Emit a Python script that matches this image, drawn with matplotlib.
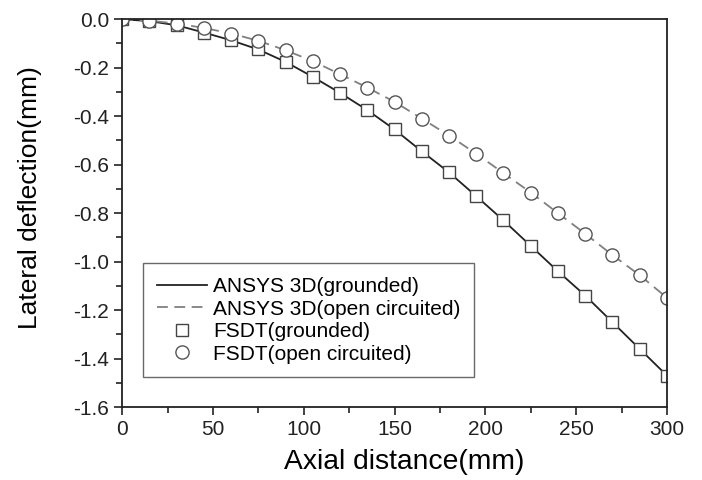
import matplotlib
matplotlib.use('Agg')
import matplotlib.pyplot as plt
from matplotlib.ticker import MultipleLocator

plt.rcParams['font.family'] = ['Liberation Sans', 'DejaVu Sans']
plt.rcParams['axes.unicode_minus'] = False

# axial positions of the FSDT points (mm)
axial = [0, 15, 30, 45, 60, 75, 90, 105, 120, 135, 150,
         165, 180, 195, 210, 225, 240, 255, 270, 285, 300]

# lateral deflection (mm)
grounded = [0.0, -0.008, -0.025, -0.055, -0.087, -0.125, -0.176, -0.238, -0.304, -0.375, -0.455,
            -0.545, -0.632, -0.73, -0.83, -0.935, -1.04, -1.14, -1.25, -1.36, -1.47]
open_circ = [0.0, -0.006, -0.018, -0.036, -0.059, -0.089, -0.128, -0.173, -0.227, -0.282, -0.341,
             -0.41, -0.48, -0.555, -0.635, -0.715, -0.80, -0.885, -0.973, -1.056, -1.149]

fig = plt.figure(figsize=(7.02, 4.8), dpi=100)
ax = fig.add_axes([0.174, 0.152, 0.776, 0.808])

ax.plot(axial, grounded, '-', color='#222222', lw=1.3, label='ANSYS 3D(grounded)')
ax.plot(axial, open_circ, '--', color='#808080', lw=1.3, dashes=(6, 3.6),
        label='ANSYS 3D(open circuited)')
ax.plot(axial, grounded, 's', ms=9, mfc='white', mec='#444444', mew=1.0,
        linestyle='none', label='FSDT(grounded)')
ax.plot(axial, open_circ, 'o', ms=9.5, mfc='white', mec='#555555', mew=1.0,
        linestyle='none', label='FSDT(open circuited)')

ax.set_xlim(0, 300)
ax.set_ylim(-1.6, 0.0)
ax.xaxis.set_major_locator(MultipleLocator(50))
ax.xaxis.set_minor_locator(MultipleLocator(25))
ax.yaxis.set_major_locator(MultipleLocator(0.2))
ax.yaxis.set_minor_locator(MultipleLocator(0.1))
ax.yaxis.set_major_formatter(plt.FormatStrFormatter('%.1f'))

ax.tick_params(which='both', direction='out', top=False, right=False,
               labelsize=15, width=1.2, colors='#222222')
ax.tick_params(which='major', length=6)
ax.tick_params(which='minor', length=4)
for s in ax.spines.values():
    s.set_linewidth(1.3)
    s.set_color('#222222')

ax.set_xlabel('Axial distance(mm)', fontsize=20.3)
ax.set_ylabel('Lateral deflection(mm)', fontsize=19)
ax.xaxis.set_label_coords(0.517, -0.108)
ax.yaxis.set_label_coords(-0.147, 0.54)

leg = ax.legend(loc='lower left', bbox_to_anchor=(0.0385, 0.077), borderaxespad=0,
                fontsize=15, frameon=True, fancybox=False, handlelength=2.4,
                borderpad=0.65, labelspacing=0.17, handletextpad=0.3)
leg.get_frame().set_edgecolor('#444444')
leg.get_frame().set_linewidth(1.0)

plt.savefig('out.png', dpi=100)
